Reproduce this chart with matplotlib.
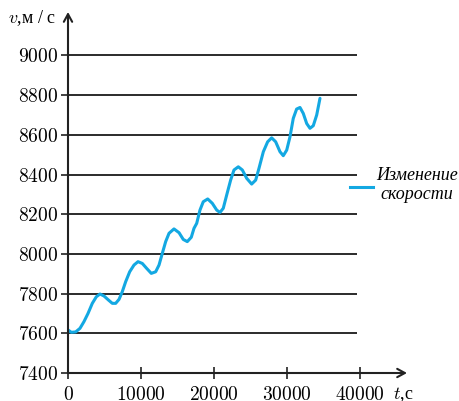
import matplotlib
matplotlib.use("Agg")
import matplotlib.pyplot as plt
from matplotlib.ticker import FuncFormatter

plt.rcParams['mathtext.fontset'] = 'cm'
plt.rcParams['font.family'] = ['Liberation Serif', 'DejaVu Serif']

# время, с / скорость, м/с
t = [0, 455, 1050, 1640, 2190, 2740, 3330, 3880, 4380, 4930, 5530, 6070,
     6530, 6990, 7440, 7900, 8450, 9040, 9590, 10180, 10780, 11410, 12010,
     12470, 12920, 13380, 13840, 14520, 15210, 15790, 16340, 16890, 17260,
     17630, 18080, 18530, 19140, 19770, 20370, 20820, 21270, 21740, 22280,
     22740, 23330, 23880, 24480, 25160, 25710, 26160, 26760, 27350, 27900,
     28450, 29040, 29490, 29960, 30410, 30860, 31320, 31780, 32230, 32700,
     33150, 33600, 34070, 34520]
v = [7617, 7605, 7607, 7625, 7659, 7700, 7751, 7784, 7798, 7788, 7768, 7751,
     7751, 7771, 7810, 7860, 7910, 7944, 7961, 7952, 7927, 7902, 7910,
     7944, 8003, 8062, 8104, 8126, 8107, 8073, 8062, 8084, 8129,
     8154, 8221, 8263, 8277, 8255, 8221, 8209, 8230, 8297, 8372,
     8423, 8439, 8423, 8381, 8352, 8372, 8431, 8515, 8565, 8585,
     8565, 8515, 8495, 8523, 8590, 8683, 8730, 8738, 8708, 8657,
     8633, 8646, 8700, 8784]

x_ticks = [0, 10000, 20000, 30000, 40000]
y_ticks = [7400, 7600, 7800, 8000, 8200, 8400, 8600, 8800, 9000]
grid_levels = y_ticks[1:]

W, H = 460, 401
fig = plt.figure(figsize=(W / 100, H / 100), dpi=100)
ax = fig.add_axes([68 / W, 28 / H, (407 - 68) / W, (373 - 12) / H])
ax.set_xlim(0, 46440)
ax.set_ylim(7400, 9219)

# горизонтальные линии сетки
ax.hlines(grid_levels, 0, 39600, colors='#2b2b2b', lw=1.4, zorder=1)

ax.plot(t, v, color='#13a8e2', lw=2.2, zorder=3,
        solid_capstyle='round', solid_joinstyle='round')

for s in ax.spines.values():
    s.set_visible(False)

# оси со стрелками
arrow = dict(arrowstyle='->,head_length=0.55,head_width=0.3', lw=1.5,
             color='#222222', shrinkA=0, shrinkB=0)
ax.annotate('', xy=(1, 0), xytext=(0, 0), xycoords='axes fraction',
            arrowprops=arrow, annotation_clip=False)
ax.annotate('', xy=(0, 1), xytext=(0, 0), xycoords='axes fraction',
            arrowprops=arrow, annotation_clip=False)

fmt = FuncFormatter(lambda val, pos: '$%d$' % val)
ax.set_xticks(x_ticks)
ax.set_yticks(y_ticks)
ax.xaxis.set_major_formatter(fmt)
ax.yaxis.set_major_formatter(fmt)
ax.tick_params(axis='x', direction='inout', length=8, width=1.2,
               color='#222222', labelsize=14, pad=5)
ax.tick_params(axis='y', direction='out', length=5, width=1.2,
               color='#222222', labelsize=14, pad=2)

fig.text(8 / W, 1 - 18 / H, r'$v$,м / с', fontsize=13, va='center', ha='left')
fig.text(393 / W, 1 - 395 / H, r'$t$,с', fontsize=13, va='center', ha='left')

# легенда
fig.add_artist(plt.Line2D([350 / W, 373 / W], [1 - 187 / H, 1 - 187 / H],
                          color='#13a8e2', lw=2.2))
fig.text(417 / W, 1 - 185 / H, 'Изменение\nскорости', fontsize=13,
         style='italic', ha='center', va='center', linespacing=1.1)

fig.savefig('out.png', dpi=100)
